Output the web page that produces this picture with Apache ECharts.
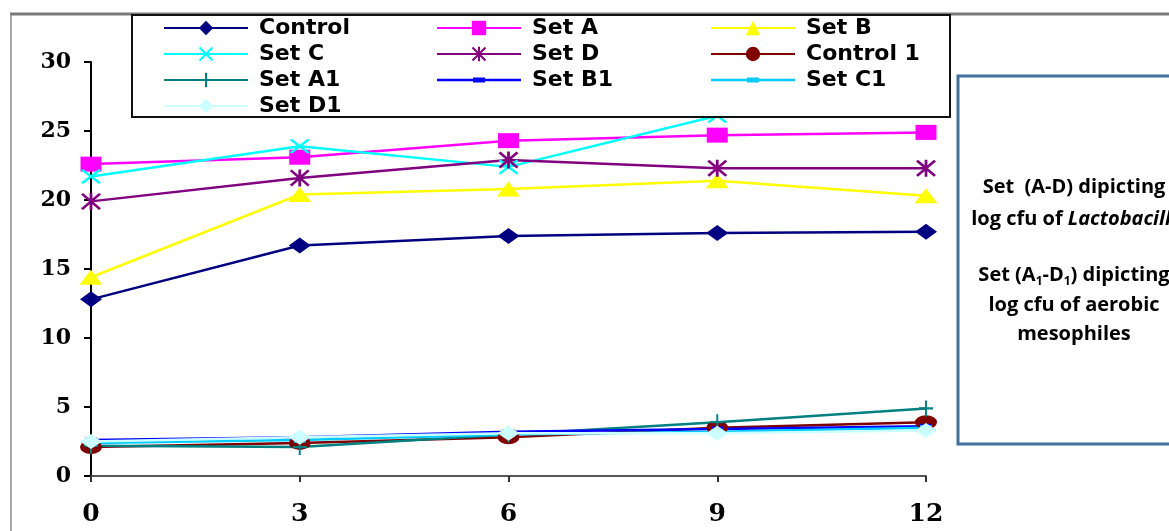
<!DOCTYPE html>
<html><head><meta charset="utf-8">
<script src="https://cdn.jsdelivr.net/npm/echarts@6/dist/echarts.min.js"></script>
<style>html,body{margin:0;padding:0;background:#fff}#c{width:1169px;height:531px}</style>
</head><body><div id="c"></div>
<script>
// ---- data ----
const categories = ['0', '3', '6', '9', '12'];
const control  = [12.8, 16.7, 17.4, 17.6, 17.7];
const setA     = [22.6, 23.1, 24.3, 24.7, 24.9];
const setB     = [14.4, 20.4, 20.8, 21.4, 20.3];
const setC     = [21.7, 23.9, 22.4, 26.1, 31.5];
const setD     = [19.9, 21.6, 22.9, 22.3, 22.3];
const control1 = [2.1, 2.4, 2.8, 3.5, 3.9];
const setA1    = [2.2, 2.1, 3.0, 3.9, 4.9];
const setB1    = [2.6, 2.8, 3.2, 3.4, 3.6];
const setC1    = [2.4, 2.6, 3.0, 3.2, 3.5];
const setD1    = [2.5, 2.8, 3.1, 3.1, 3.3];
const yMin = 0, yMax = 30, yStep = 5;
const legendCol1 = ['Control', 'Set C', 'Set A1', 'Set D1'];
const legendCol2 = ['Set A', 'Set D', 'Set B1'];
const legendCol3 = ['Set B', 'Control 1', 'Set C1'];
const noteLines = ['Set  (A-D) dipicting', 'log cfu of |Lactobacilli', 'Set (A|1|-D|1|) dipicting', 'log cfu of aerobic', 'mesophiles'];

// ---- styling ----
const X_PATH = 'path://M0,1 L1,0 L5,4 L9,0 L10,1 L6,5 L10,9 L9,10 L5,6 L1,10 L0,9 L4,5 Z';
const STAR_PATH = 'path://M0,1 L1,0 L5,4 L9,0 L10,1 L6,5 L10,9 L9,10 L5,6 L1,10 L0,9 L4,5 Z M4.3,0 L5.7,0 L5.7,10 L4.3,10 Z';
const PLUS_PATH = 'path://M4.3,0 L5.7,0 L5.7,4.3 L10,4.3 L10,5.7 L5.7,5.7 L5.7,10 L4.3,10 L4.3,5.7 L0,5.7 L0,4.3 L4.3,4.3 Z';
const DASH_PATH = 'path://M0,0 L10,0 L10,4 L0,4 Z';
const DASH_LEGEND = 'path://M0,7.8 L84,7.8 L84,10.2 L0,10.2 Z M36,6.5 L48,6.5 L48,11.5 L36,11.5 Z';
const dashLegendNames = ['Set B1', 'Set C1'];

const defs = [
  {name: 'Control',   data: control,  color: '#000080', symbol: 'diamond',  size: [22, 16]},
  {name: 'Set A',     data: setA,     color: '#FF00FF', symbol: 'rect',     size: [21, 15]},
  {name: 'Set B',     data: setB,     color: '#FFFF00', symbol: 'triangle', size: [23, 15]},
  {name: 'Set C',     data: setC,     color: '#00FFFF', symbol: X_PATH,     size: [20, 15]},
  {name: 'Set D',     data: setD,     color: '#800080', symbol: STAR_PATH,  size: [20, 17]},
  {name: 'Control 1', data: control1, color: '#800000', symbol: 'circle',   size: [22, 14]},
  {name: 'Set A1',    data: setA1,    color: '#008080', symbol: PLUS_PATH,  size: [14, 16]},
  {name: 'Set B1',    data: setB1,    color: '#0000FF', symbol: DASH_PATH,  size: [12, 5]},
  {name: 'Set C1',    data: setC1,    color: '#00CCFF', symbol: DASH_PATH,  size: [12, 5]},
  {name: 'Set D1',    data: setD1,    color: '#CCFFFF', symbol: 'diamond',  size: [22, 15]}
];

const series = defs.map(d => ({
  name: d.name, type: 'line', data: d.data,
  symbol: d.symbol, symbolSize: d.size, showSymbol: true, clip: true,
  lineStyle: {color: d.color, width: 2.5},
  itemStyle: {color: d.color, borderWidth: 0},
  emphasis: {disabled: true}, animation: false
}));

function legendCol(names, left) {
  return {
    data: names.map(n => dashLegendNames.indexOf(n) >= 0 ? {name: n, icon: DASH_LEGEND} : {name: n}),
    orient: 'vertical', left: left, top: 17, padding: 0,
    itemWidth: 84, itemHeight: 18, itemGap: 4, z: 20,
    selectedMode: false,
    textStyle: {color: '#000', fontFamily: 'DejaVu Sans', fontWeight: 'bold', fontSize: 22, lineHeight: 22, padding: [0, 0, 0, 6]}
  };
}

const noteFont = 'Open Sans';
const noteY = [187, 219, 275, 305, 334];
const noteGraphics = noteLines.map((t, i) => {
  const parts = t.split('|');
  let rich = '';
  if (i === 1) rich = '{n|' + parts[0] + '}{i|' + parts[1] + '}';
  else if (i === 2) rich = '{n|' + parts[0] + '}{s|' + parts[1] + '}{n|' + parts[2] + '}{s|' + parts[3] + '}{n|' + parts[4] + '}';
  else rich = '{n|' + t + '}';
  return {
    type: 'text', x: 1074, y: noteY[i], z: 12,
    style: {
      text: rich, align: 'center', verticalAlign: 'middle',
      rich: {
        n: {fontFamily: noteFont, fontWeight: 'bold', fontSize: 20, fill: '#000', lineHeight: 26},
        i: {fontFamily: noteFont, fontWeight: 'bold', fontStyle: 'italic', fontSize: 20, fill: '#000', lineHeight: 26},
        s: {fontFamily: noteFont, fontWeight: 'bold', fontSize: 12, fill: '#000', lineHeight: 26, verticalAlign: 'bottom', padding: [8, 0, 0, 0]}
      }
    }
  };
});

const chart = echarts.init(document.getElementById('c'), null, {renderer: 'canvas'});
chart.setOption({
  backgroundColor: '#fff',
  animation: false,
  grid: {left: 91, right: 243, top: 62, bottom: 55, containLabel: false},
  xAxis: {
    type: 'category', data: categories, boundaryGap: false,
    axisLine: {show: true, lineStyle: {color: '#555', width: 2}},
    axisTick: {show: true, length: 6, inside: false, lineStyle: {color: '#333', width: 2}},
    axisLabel: {interval: 0, margin: 26, color: '#000', fontFamily: 'DejaVu Serif', fontWeight: 'bold', fontSize: 25},
    splitLine: {show: false}
  },
  yAxis: {
    type: 'value', min: yMin, max: yMax, interval: yStep,
    axisLine: {show: true, lineStyle: {color: '#000', width: 2}},
    axisTick: {show: true, length: 7, lineStyle: {color: '#000', width: 2}},
    axisLabel: {margin: 20, color: '#000', fontFamily: 'DejaVu Serif', fontWeight: 'bold', fontSize: 22},
    splitLine: {show: false}
  },
  legend: [legendCol(legendCol1, 163), legendCol(legendCol2, 436), legendCol(legendCol3, 710)],
  series: series,
  graphic: [
    {type: 'line', z: 11, shape: {x1: 10, y1: 14, x2: 1169, y2: 14}, style: {stroke: '#7a7a7a', lineWidth: 3}},
    {type: 'line', z: 11, shape: {x1: 11, y1: 14, x2: 11, y2: 531}, style: {stroke: '#8a8a8a', lineWidth: 1.5}},
    {type: 'rect', z: 12, shape: {x: 132, y: 15, width: 818, height: 102}, style: {fill: '#fff', stroke: '#111', lineWidth: 2}},
    {type: 'rect', z: 11, shape: {x: 958, y: 76, width: 260, height: 368}, style: {fill: '#fff', stroke: '#41719c', lineWidth: 3}}
  ].concat(noteGraphics)
});
</script></body></html>
